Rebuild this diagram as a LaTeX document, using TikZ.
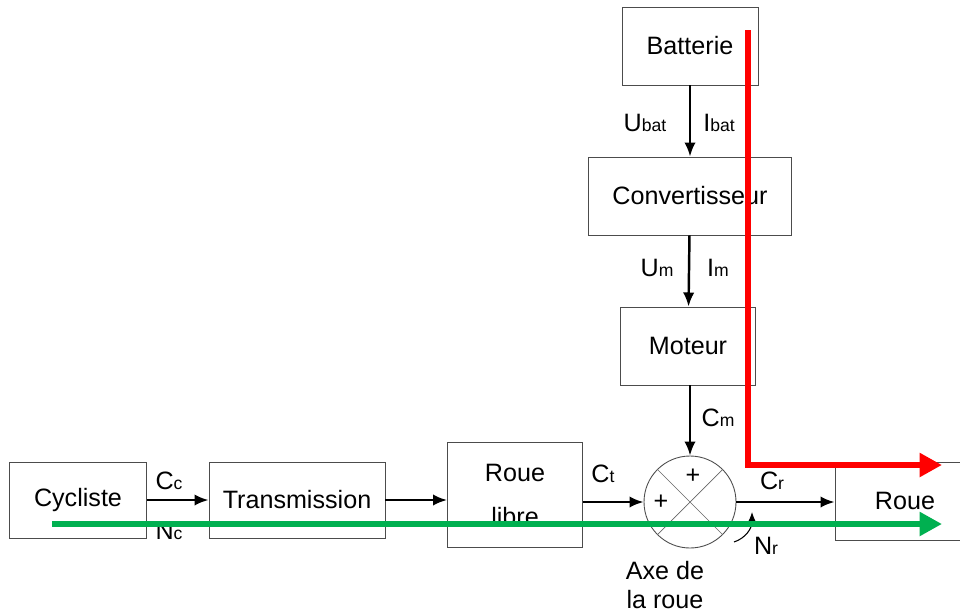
\documentclass[tikz,border=0pt]{standalone}
\usepackage{fontspec}
\setmainfont{Liberation Sans}
\usetikzlibrary{arrows.meta}

\definecolor{flowred}{RGB}{255,0,0}
\definecolor{flowgreen}{RGB}{0,176,80}

\newcommand{\sig}[2]{#1{\fontsize{10}{10}\selectfont #2}}

\tikzstyle{blk} = [draw=black!70, line width=0.5pt, fill=white, inner sep=0pt,
  font=\fontsize{14.3}{17}\selectfont]
\tikzstyle{lien} = [line width=1.4pt, -{Latex[length=8pt,width=6.5pt]}]
\tikzstyle{lbl} = [font=\fontsize{14.3}{17}\selectfont, inner sep=0pt]
\tikzstyle{flux} = [line width=1.2mm, -{Triangle[length=4.5mm,width=4.6mm]}]

\begin{document}
\begin{tikzpicture}[x=0.2mm, y=-0.2mm]
    \useasboundingbox (0,0) rectangle (960,614);
    \clip (0,0) rectangle (960,614);

    % chaine electrique
    \node[blk, minimum width=27.2mm, minimum height=15.6mm] (bat) at (690,46) {Batterie};
    \node[blk, minimum width=40.6mm, minimum height=15.6mm] (conv) at (690,196) {Convertisseur};
    \node[blk, minimum width=27mm, minimum height=15.6mm] (mot) at (688,346) {Moteur};

    % chaine mecanique
    \node[blk, minimum width=27.4mm, minimum height=15.2mm] (cyc) at (78,500) {Cycliste};
    \node[blk, minimum width=35.2mm, minimum height=15.2mm] (trans) at (297,500) {Transmission};
    \node[blk, minimum width=27mm, minimum height=21mm, align=center] (rl) at (515,495)
      {Roue\\[8pt]libre};
    \node[blk, minimum width=28mm, minimum height=15.6mm] (roue) at (905,501) {Roue};

    % sommateur
    \node[draw=black!70, line width=0.5pt, circle, minimum size=18.4mm, inner sep=0pt]
      (sum) at (690,502) {};
    \draw[black!60, line width=0.4pt] (sum.north west) -- (sum.south east)
      (sum.north east) -- (sum.south west);
    \node[lbl] (plush) at (693,476) {+};
    \node[lbl] (plusg) at (661,502) {+};

    % liaisons
    \draw[lien] (bat) -- (conv);
    \draw[lien] (conv) -- (mot);
    \draw[lien] (mot.south -| sum.north) -- (sum.north);
    \draw[lien] (cyc) -- (trans);
    \draw[lien] (trans.east) -- (rl.west |- trans.east);
    \draw[lien] (rl.east |- sum.west) -- (sum.west);
    \draw[lien] (sum.east) -- (roue.west |- sum.east);

    % grandeurs
    \node[lbl] (ubat) at (645,123) {\sig{U}{bat}};
    \node[lbl] (ibat) at (719,123) {\sig{I}{bat}};
    \node[lbl] (um) at (657,268) {\sig{U}{m}};
    \node[lbl] (im) at (718,268) {\sig{I}{m}};
    \node[lbl] (cm) at (718,418) {\sig{C}{m}};
    \node[lbl] (cc) at (169,481) {\sig{C}{c}};
    \node[lbl] (nc) at (169,531) {\sig{N}{c}};
    \node[lbl] (ct) at (603,474) {\sig{C}{t}};
    \node[lbl] (cr) at (772,481) {\sig{C}{r}};
    \node[lbl] (nr) at (766,546) {\sig{N}{r}};
    \node[lbl, align=center] (axe) at (665,585) {Axe de\\la roue};

    % rotation de l'axe
    \coordinate (nrA) at (734,542);
    \coordinate (nrB) at (752,512);
    \draw[line width=0.6pt, -{Latex[length=6pt,width=5pt]}]
      (nrA) .. controls (746,538) and (752,528) .. (nrB);

    % flux de puissance
    \coordinate (rA) at (748,30);
    \coordinate (rB) at (748,465);
    \coordinate (rC) at (942,465);
    \draw[flux, flowred] (rA) -- (rB) -- (rC);
    \coordinate (gA) at (52,524);
    \coordinate (gB) at (942,524);
    \draw[flux, flowgreen] (gA) -- (gB);
\end{tikzpicture}
\end{document}
